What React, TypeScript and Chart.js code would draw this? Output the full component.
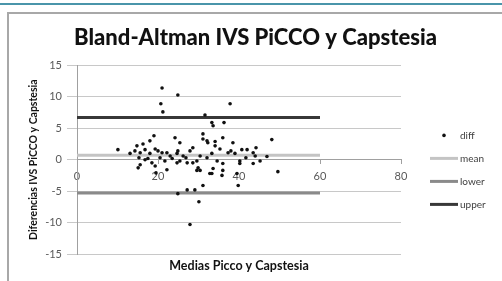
import { useEffect, useRef } from "react";
import { Chart, registerables } from "chart.js";

Chart.register(...registerables);

const chartTitle = "Bland-Altman IVS PiCCO y Capstesia";
const xAxisTitle = "Medias Picco y Capstesia";
const yAxisTitle = "Diferencias IVS PiCCO y Capstesia";

// Means (x) and differences (y) of each pair
const meansX = [
  10.1, 21.0, 20.7, 21.2, 24.9, 37.8, 31.6, 33.3, 33.6, 36.3,
  36.0, 48.1, 31.1, 31.1, 32.3, 34.1, 34.1, 28.6, 25.4, 19.0,
  24.2, 14.8, 16.3, 14.3, 15.6, 16.8, 19.3, 20.0, 21.0, 22.2,
  17.5, 15.3, 20.5, 23.5, 24.7, 25.4, 27.2, 28.6, 29.6, 29.9,
  32.1, 33.3, 32.1, 24.9, 24.7, 27.9, 15.1, 22.2, 29.6, 33.6,
  33.3, 37.3, 39.0, 40.7, 42.0, 43.5, 44.0, 46.9, 40.2, 43.5,
  49.6, 36.0, 36.0, 30.4, 19.3, 15.6, 24.9, 27.2, 29.1, 30.1,
  31.1, 39.8, 27.9, 32.8, 35.8, 40.2, 39.5, 26.2, 26.9, 23.0,
  18.0, 21.7, 18.5, 35.3, 38.0, 44.2, 45.2, 13.1, 16.8, 30.4,
  34.6, 41.7, 38.5, 19.5, 18.0,
];
const diffsY = [
  1.6, 11.4, 8.9, 7.6, 10.3, 8.9, 7.1, 5.9, 5.4, 5.9,
  3.5, 3.2, 4.1, 3.3, 2.7, 2.9, 2.2, 1.9, 2.7, 3.8,
  3.5, 2.2, 2.5, 1.4, 1.1, 1.6, 1.7, 1.4, 1.1, 1.1,
  0.2, 0.3, 0.3, 0.2, -0.5, -0.2, -0.5, -0.5, -0.2, -1.3,
  0.3, 1.0, 3.0, 1.4, 1.0, 1.4, -1.3, -1.6, -1.7, -1.4,
  -2.2, 1.1, 1.0, 1.6, 1.6, 1.1, 0.6, 0.5, -0.2, -0.6,
  -1.9, -0.6, -1.7, -1.7, -1.0, -0.8, -5.4, -4.8, -4.8, -6.7,
  -4.1, -4.1, -10.3, -2.2, -2.5, -0.6, -2.2, 0.6, 0.3, 0.6,
  1.0, -0.2, -0.5, 1.7, 1.4, 1.9, -0.2, 1.0, 0.0, 0.6,
  -0.2, 0.3, 2.7, -2.1, 3.0,
];

const meanDiff = 0.7;
const lowerLimit = -5.3;
const upperLimit = 6.7;
const limitLineX = [0, 60];

const xMin = 0, xMax = 80, xStep = 20;
const yMin = -15, yMax = 15, yStep = 5;

const FONT = "Lato, 'Liberation Sans', sans-serif";

const legendPlugin = {
  id: "sideLegend",
  afterDraw(chart: any) {
    const ctx = chart.ctx;
    const { right, top } = chart.chartArea;
    ctx.save();
    ctx.font = `10px ${FONT}`;
    ctx.textBaseline = "middle";
    ctx.textAlign = "left";
    chart.data.datasets.forEach((ds: any, i: number) => {
      const y = top + 70 + i * 23;
      const x0 = right + 29;
      const x1 = right + 57;
      if (ds.showLine) {
        ctx.strokeStyle = ds.borderColor;
        ctx.lineWidth = ds.borderWidth;
        ctx.beginPath();
        ctx.moveTo(x0, y);
        ctx.lineTo(x1, y);
        ctx.stroke();
      } else {
        ctx.fillStyle = ds.backgroundColor;
        ctx.beginPath();
        ctx.arc((x0 + x1) / 2, y, 1.8, 0, Math.PI * 2);
        ctx.fill();
      }
      ctx.fillStyle = "#404040";
      ctx.fillText(ds.label, x1 + 2, y);
    });
    ctx.restore();
  },
};

export default function App() {
  const ref = useRef<HTMLCanvasElement | null>(null);

  useEffect(() => {
    if (!ref.current) return;
    const line = (label: string, value: number, color: string) => ({
      label,
      data: limitLineX.map((x) => ({ x, y: value })),
      showLine: true,
      borderColor: color,
      backgroundColor: color,
      borderWidth: 3,
      pointRadius: 0,
      pointHoverRadius: 0,
    });
    const chart = new Chart(ref.current, {
      type: "scatter",
      data: {
        datasets: [
          {
            label: "diff",
            data: meansX.map((x, i) => ({ x, y: diffsY[i] })),
            backgroundColor: "#111111",
            borderColor: "#111111",
            pointRadius: 1.8,
            pointBorderWidth: 0,
            showLine: false,
          } as any,
          line("mean", meanDiff, "#c4c4c4"),
          line("lower", lowerLimit, "#8a8a8a"),
          line("upper", upperLimit, "#383838"),
        ],
      },
      options: {
        animation: false,
        responsive: false,
        maintainAspectRatio: false,
        layout: { padding: 0 },
        plugins: {
          legend: { display: false },
          tooltip: { enabled: false },
          title: {
            display: true,
            text: chartTitle,
            color: "#111111",
            font: { family: FONT, size: 22, weight: "900" },
            padding: { top: 11, bottom: 14 },
          },
        },
        scales: {
          x: {
            type: "linear",
            position: { y: 0 } as any,
            min: xMin,
            max: xMax,
            ticks: {
              stepSize: xStep,
              color: "#595959",
              font: { family: FONT, size: 11 },
              padding: 6,
            },
            grid: { display: true, drawOnChartArea: false, tickLength: 4, color: "#a0a0a0" },
            border: { display: true, color: "#a0a0a0" },
            afterFit: (s: any) => {
              s.paddingLeft = 0;
              s.paddingRight = 0;
            },
          } as any,
          y: {
            type: "linear",
            position: "left",
            min: yMin,
            max: yMax,
            ticks: {
              stepSize: yStep,
              color: "#595959",
              font: { family: FONT, size: 11 },
              padding: 5,
            },
            grid: { color: "#c8c8c8", tickLength: 10 },
            border: { display: true, color: "#a0a0a0" },
            title: {
              display: true,
              text: yAxisTitle,
              color: "#111111",
              font: { family: FONT, size: 10.5, weight: "bold" },
              padding: { top: 18, bottom: 0 },
            },
            afterFit: (s: any) => {
              s.width = 68;
            },
          } as any,
          legendSpace: {
            type: "linear",
            axis: "y",
            position: "right",
            ticks: { display: false },
            grid: { display: false },
            border: { display: false },
            afterFit: (s: any) => {
              s.width = 101;
            },
          } as any,
          xTitle: {
            type: "linear",
            axis: "x",
            position: "bottom",
            ticks: { display: false },
            grid: { display: false },
            border: { display: false },
            title: {
              display: true,
              text: xAxisTitle,
              color: "#111111",
              font: { family: FONT, size: 12.5, weight: "bold" },
              padding: { top: 0, bottom: 8 },
            },
            afterFit: (s: any) => {
              s.height = 27;
            },
          } as any,
        },
      },
      plugins: [legendPlugin],
    });
    return () => chart.destroy();
  }, []);

  return (
    <div
      style={{
        position: "absolute",
        left: 0,
        top: 0,
        width: 502,
        height: 281,
        overflow: "hidden",
        background: "#ffffff",
      }}
    >
      <div
        style={{
          position: "absolute",
          left: 0,
          top: 3,
          width: 502,
          height: 2,
          background: "#4a95aa",
        }}
      />
      <div
        style={{
          position: "absolute",
          left: 7,
          top: 12,
          width: 520,
          height: 300,
          border: "2px solid #a8a8a8",
          boxSizing: "border-box",
        }}
      />
      <canvas
        ref={ref}
        width={493}
        height={267}
        style={{ position: "absolute", left: 9, top: 14, width: 493, height: 267 }}
      />
    </div>
  );
}
